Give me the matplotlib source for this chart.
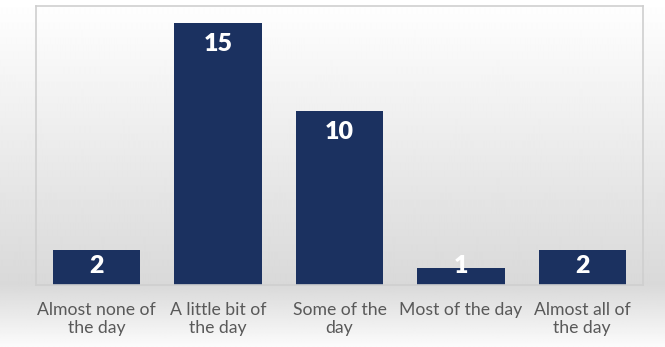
import numpy as np
import matplotlib
matplotlib.use("Agg")
import matplotlib.pyplot as plt

categories = ["Almost none of\nthe day", "A little bit of\nthe day", "Some of the\nday",
              "Most of the day", "Almost all of\nthe day"]
counts = [2, 15, 10, 1, 2]

BAR = "#1b3160"
W, H = 665, 347

fig = plt.figure(figsize=(W / 100, H / 100), dpi=100)

# vertical background shade: white at top, grey near the axis line, lighter again below
bg = fig.add_axes([0, 0, 1, 1], zorder=-1)
rows = np.linspace(0, 1, H)
peak = 285 / H
shade = np.where(rows < peak,
                 1.0 - (1.0 - 0.85) * (rows / peak),
                 0.85 + (0.985 - 0.85) * ((rows - peak) / (1 - peak)))
bg.imshow(np.repeat(shade[:, None], 4, axis=1), cmap="gray", vmin=0, vmax=1,
          aspect="auto", extent=[0, 1, 1, 0], interpolation="bilinear")
bg.set_xlim(0, 1)
bg.set_ylim(1, 0)
bg.axis("off")

ax = fig.add_axes([36 / W, (H - 285) / H, 607 / W, 279 / H])
ax.set_facecolor("none")
x = np.arange(len(categories))
ax.bar(x, counts, width=0.72, color=BAR, zorder=2)
ax.set_xlim(-0.5, len(categories) - 0.5)
ax.set_ylim(0, 16)

# value labels sit just inside the bar top, but never below the baseline band
for xi, v in zip(x, counts):
    ypos = max(v - 1.2, 1.1)
    ax.text(xi, ypos, str(v), ha="center", va="center", color="white",
            fontsize=18, fontweight="heavy", family="Lato", zorder=3)

ax.set_xticks(x)
ax.set_xticklabels(categories, fontsize=12.7, color="#595959", family="Lato",
                   linespacing=1.2)
ax.tick_params(axis="x", length=0, pad=12)
ax.set_yticks([])
for s in ax.spines.values():
    s.set_color("#cfcfcf")
    s.set_linewidth(1.2)

fig.savefig("out.png", dpi=100)
